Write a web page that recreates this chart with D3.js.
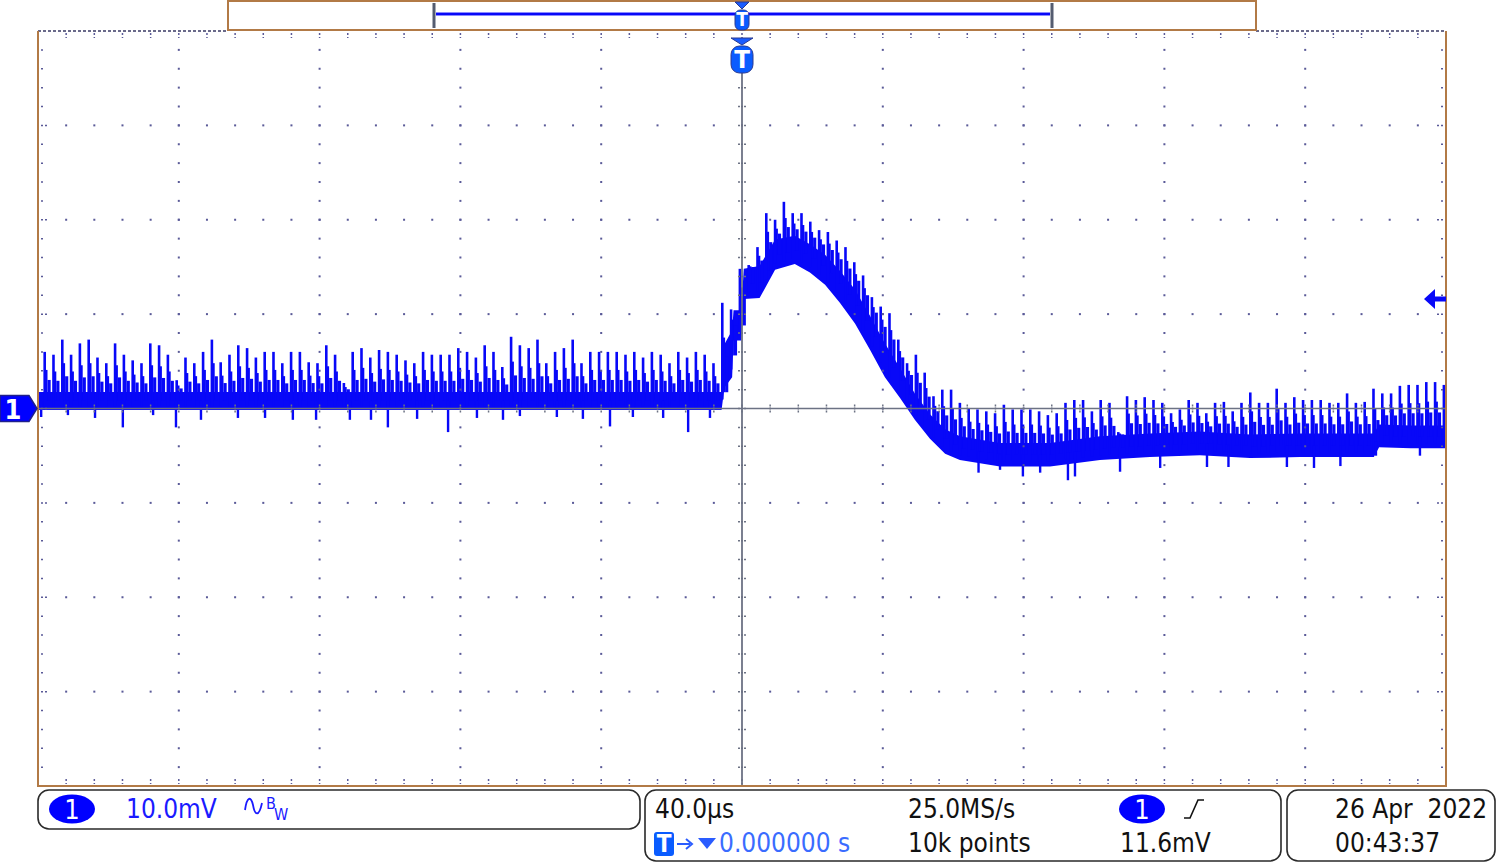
<!DOCTYPE html>
<html>
<head>
<meta charset="UTF-8">
<title>Ch1 ripple capture</title>
<script src="https://cdn.jsdelivr.net/npm/d3@7"></script>
<style>
  body { margin: 0; background: #fff; }
  svg text { font-family: "Liberation Sans Narrow", "Arial Narrow", "DejaVu Sans Condensed", sans-serif; white-space: pre; }
</style>
</head>
<body>
<svg id="scope" width="1500" height="867"></svg>
<script>
// values: time in µs (40 µs/div), level in mV (10 mV/div)

// centre and half-thickness of the noise band
var envTime = [-200, -5.8, -5.0, -2.8, -2.4, -0.2, 0.5, 5, 9.4, 15, 19.3, 23.6, 27.8, 32.1, 36.4, 40.6, 44.9, 49.1, 53.4, 57.7, 61.9, 73.3, 87.5, 101.7, 115.9, 130.1, 144.3, 158.5, 179.5, 181, 190, 200];
var envMid  = [0.8, 0.8, 4.5, 5.8, 8.8, 8.8, 13.2, 13.4, 16.3, 16.8, 15.9, 14.7, 12.9, 10.8, 8.0, 5.1, 2.7, 0.2, -1.9, -3.5, -4.2, -4.9, -4.9, -4.2, -3.9, -3.7, -4.0, -3.9, -3.9, -2.9, -3.0, -3.0];
var envHalf = [0.95, 0.95, 2.3, 2.5, 1.6, 1.6, 1.6, 1.7, 1.6, 1.5, 1.5, 1.6, 1.7, 1.8, 1.8, 1.8, 1.6, 1.4, 1.3, 1.3, 1.25, 1.25, 1.25, 1.25, 1.25, 1.25, 1.25, 1.25, 1.25, 1.2, 1.2, 1.2];

// switching spikes, one every 2.5 µs, peak level of each
var spikeStart = -198.1, spikePeriod = 2.5;
var spikePeak = [
  6.0,5.7,7.3,5.7,6.9,7.3,5.4,4.8,6.9,5.7,5.1,4.8,6.9,6.7,5.7,3.0,5.4,4.8,6.0,7.3,
  4.9,5.7,6.7,6.4,5.4,6.0,6.0,4.8,6.0,6.0,4.9,4.8,6.7,5.7,2.7,6.0,6.4,5.4,6.2,
  6.0,5.7,5.1,4.8,6.0,5.7,5.7,5.7,6.4,6.0,5.4,6.7,6.0,4.4,7.6,6.7,6.4,7.3,4.8,6.0,
  6.4,7.3,4.8,6.0,6.0,6.0,6.0,5.7,6.0,5.4,6.0,5.7,4.8,6.0,5.4,6.0,5.7,4.8,
  11.2,10.5,14.8,15.2,17.1,20.7,20.0,21.9,20.7,20.7,19.8,18.9,18.7,17.8,17.1,15.5,
  14.1,11.8,10.8,10.1,7.3,4.8,5.7,3.8,1.3,2.0,2.0,
  0.6,0.0,-0.1,-0.3,-0.5,0.4,-0.1,-0.1,-0.1,-0.3,-0.7,-0.5,0.6,0.9,0.9,-0.3,0.9,0.6,
  -2.5,1.3,0.9,1.2,0.9,0.6,-0.5,-0.1,0.9,0.6,-0.5,0.6,0.7,-0.3,0.6,1.7,0.6,0.6,2.1,
  0.6,1.2,0.9,0.9,0.9,0.6,0.6,1.6,0.6,0.7,2.1,1.6,1.6,2.4,2.5,2.5,2.8,2.8,2.5
];

// downward excursions [time, level]
var dips = [
  [-199.1,-0.9],[-191.5,-0.7],[-183.8,-1.0],[-175.9,-2.0],[-167.3,-0.7],[-160.8,-2.0],
  [-153.7,-1.2],[-143.2,-1.0],[-135.5,-1.0],[-127.6,-1.2],[-121.0,-1.2],[-111.4,-1.2],
  [-105.4,-1.2],[-100.6,-2.0],[-92.3,-1.1],[-83.5,-2.5],[-75.3,-1.0],[-67.9,-1.2],
  [-63.1,-0.8],[-52.6,-0.9],[-45.2,-1.1],[-37.5,-1.9],[-31.0,-0.9],[-22.4,-1.0],
  [-15.3,-2.5],[-9.1,-1.0],
  [67.2,-6.8],[73.3,-6.5],[79.8,-7.2],[84.7,-6.8],[92.6,-7.6],[94.6,-7.2],[107.4,-6.7],
  [118.8,-6.3],[132.1,-6.2],[138.2,-6.2],[154.8,-6.2],[162.5,-6.3],[170.0,-6.1],
  [180.1,-5.0],[192.6,-5.0]
];

var trigLevel = 11.6;
var infoLine1 = ["40.0µs", "25.0MS/s", "26 Apr  2022"];
var infoLine2 = ["10k points", "11.6mV", "00:43:37"];

var svg = d3.select("#scope");
var x = d3.scaleLinear().domain([-200, 200]).range([38, 1446]);
var y = d3.scaleLinear().domain([-40, 40]).range([786, 31]);
var midAt = d3.scaleLinear().domain(envTime).range(envMid);
var halfAt = d3.scaleLinear().domain(envTime).range(envHalf);

var blue = "#0808f8", brown = "#b27a46", dotc = "#5a5a98", axisc = "#6c7284";

svg.append("clipPath").attr("id", "plotclip")
  .append("rect").attr("x", x(-200)).attr("y", y(40)).attr("width", x(200) - x(-200)).attr("height", y(-40) - y(40));

// ---- trace ----
var trace = svg.append("g").attr("clip-path", "url(#plotclip)");
var env = envTime.map(function(t, i) { return { t: t, mid: envMid[i], half: envHalf[i] }; });
trace.append("path")
  .datum(env)
  .attr("fill", blue)
  .attr("d", d3.area()
    .x(function(d) { return x(d.t); })
    .y0(function(d) { return y(d.mid - d.half); })
    .y1(function(d) { return y(d.mid + d.half); }));

var spikes = spikePeak.map(function(p, k) {
  var t = spikeStart + k * spikePeriod;
  return { t: t, peak: p, mid: midAt(t), half: halfAt(t) };
});

// staircase decay after each spike
function stepTop(d, f) { return y(d.mid + d.half + (d.peak - d.mid - d.half) * f); }
[[0, 0.8, 0.55], [0.8, 1.7, 0.3]].forEach(function(s) {
  trace.selectAll(null)
    .data(spikes.filter(function(d) { return d.peak > d.mid + d.half; }))
    .enter().append("rect")
    .attr("x", function(d) { return x(d.t + s[0]); })
    .attr("width", function(d) { return x(d.t + s[1]) - x(d.t + s[0]); })
    .attr("y", function(d) { return stepTop(d, s[2]); })
    .attr("height", function(d) { return Math.max(0, y(d.mid) - stepTop(d, s[2])); })
    .attr("fill", blue);
});

trace.selectAll(null)
  .data(spikes)
  .enter().append("line")
  .attr("x1", function(d) { return x(d.t); })
  .attr("x2", function(d) { return x(d.t); })
  .attr("y1", function(d) { return y(d.mid - d.half * 0.6); })
  .attr("y2", function(d) { return y(d.peak); })
  .attr("stroke", blue)
  .attr("stroke-width", 2.6);

trace.selectAll(null)
  .data(dips)
  .enter().append("line")
  .attr("x1", function(d) { return x(d[0]); })
  .attr("x2", function(d) { return x(d[0]); })
  .attr("y1", function(d) { return y(midAt(d[0])); })
  .attr("y2", function(d) { return y(d[1]); })
  .attr("stroke", blue)
  .attr("stroke-width", 2.4);

// ---- graticule ----
var grid = svg.append("g");
var majT = d3.range(-160, 161, 40).filter(function(t) { return t !== 0; });
var majV = d3.range(-30, 31, 10).filter(function(v) { return v !== 0; });
var minT = d3.range(-200, 200.1, 8);
var minV = d3.range(-40, 40.1, 2);

majT.forEach(function(t) {
  grid.selectAll(null).data(minV.slice(1, -1)).enter().append("rect")
    .attr("x", x(t) - 1).attr("y", function(v) { return y(v) - 1; })
    .attr("width", 2).attr("height", 2).attr("fill", dotc);
});
majV.forEach(function(v) {
  grid.selectAll(null).data(minT.slice(1, -1)).enter().append("rect")
    .attr("x", function(t) { return x(t) - 1; }).attr("y", y(v) - 1)
    .attr("width", 2).attr("height", 2).attr("fill", dotc);
});

// edge ticks
grid.selectAll(null).data(minV.slice(1, -1)).enter().append("line")
  .attr("x1", 41).attr("x2", function(v) { return v % 10 === 0 ? 48 : 45; })
  .attr("y1", function(v) { return y(v); }).attr("y2", function(v) { return y(v); })
  .attr("stroke", dotc).attr("stroke-width", 1.5).attr("stroke-dasharray", "2,2");
grid.selectAll(null).data(minV.slice(1, -1)).enter().append("line")
  .attr("x1", 1443).attr("x2", function(v) { return v % 10 === 0 ? 1436 : 1439; })
  .attr("y1", function(v) { return y(v); }).attr("y2", function(v) { return y(v); })
  .attr("stroke", dotc).attr("stroke-width", 1.5).attr("stroke-dasharray", "2,2");
grid.selectAll(null).data(minT.slice(1, -1)).enter().append("line")
  .attr("x1", function(t) { return x(t); }).attr("x2", function(t) { return x(t); })
  .attr("y1", 33).attr("y2", 38)
  .attr("stroke", dotc).attr("stroke-width", 1.5).attr("stroke-dasharray", "2,2");
grid.selectAll(null).data(minT.slice(1, -1)).enter().append("line")
  .attr("x1", function(t) { return x(t); }).attr("x2", function(t) { return x(t); })
  .attr("y1", 779).attr("y2", 784)
  .attr("stroke", dotc).attr("stroke-width", 1.5).attr("stroke-dasharray", "2,2");

// centre cross
grid.append("line").attr("x1", x(-200)).attr("x2", x(200)).attr("y1", y(0)).attr("y2", y(0))
  .attr("stroke", axisc).attr("stroke-width", 1.6);
grid.append("line").attr("x1", x(0)).attr("x2", x(0)).attr("y1", 66).attr("y2", y(-40))
  .attr("stroke", axisc).attr("stroke-width", 1.8);
grid.selectAll(null).data(minT.slice(1, -1)).enter().append("line")
  .attr("x1", function(t) { return x(t); }).attr("x2", function(t) { return x(t); })
  .attr("y1", y(0) - 4).attr("y2", y(0) + 4)
  .attr("stroke", axisc).attr("stroke-width", 1.5).attr("stroke-dasharray", "2,1");
grid.selectAll(null).data(minV.slice(1, -1)).enter().append("line")
  .attr("x1", x(0) - 4).attr("x2", x(0) + 4)
  .attr("y1", function(v) { return y(v); }).attr("y2", function(v) { return y(v); })
  .attr("stroke", axisc).attr("stroke-width", 1.5).attr("stroke-dasharray", "2,1");

// frame
var frame = svg.append("g");
frame.append("line").attr("x1", 38).attr("x2", 228).attr("y1", 31).attr("y2", 31)
  .attr("stroke", "#6a6a8a").attr("stroke-width", 2).attr("stroke-dasharray", "3,2");
frame.append("line").attr("x1", 1256).attr("x2", 1446).attr("y1", 31).attr("y2", 31)
  .attr("stroke", "#6a6a8a").attr("stroke-width", 2).attr("stroke-dasharray", "3,2");
frame.append("path")
  .attr("d", "M38,31 V786 H1446 V31")
  .attr("fill", "none").attr("stroke", brown).attr("stroke-width", 2);

// record bar at the top
frame.append("rect").attr("x", 228).attr("y", 1).attr("width", 1028).attr("height", 29)
  .attr("fill", "#fff").attr("stroke", brown).attr("stroke-width", 2);
frame.append("line").attr("x1", 436).attr("x2", 1050).attr("y1", 14).attr("y2", 14)
  .attr("stroke", "#8a8aff").attr("stroke-width", 4);
frame.append("line").attr("x1", 436).attr("x2", 1050).attr("y1", 14).attr("y2", 14)
  .attr("stroke", blue).attr("stroke-width", 2);
[434, 1052].forEach(function(px) {
  frame.append("rect").attr("x", px - 1.5).attr("y", 3).attr("width", 3).attr("height", 25)
    .attr("fill", "#545c70");
});

function trigMarker(cx, top, w, h) {
  var g = svg.append("g");
  g.append("path")
    .attr("d", "M" + (cx - w / 2) + "," + top + " L" + (cx + w / 2) + "," + top + " L" + cx + "," + (top + 7) + " Z")
    .attr("fill", "#1a5cff").attr("stroke", "#2a3a90").attr("stroke-width", 1);
  g.append("rect").attr("x", cx - w / 2).attr("y", top + 8).attr("width", w).attr("height", h)
    .attr("rx", w / 2.6).attr("fill", "#0a5cff").attr("stroke", "#2a3a90").attr("stroke-width", 1);
  g.append("text").attr("x", cx).attr("y", top + 8 + h * 0.82).attr("text-anchor", "middle")
    .attr("font-size", h * 0.95).attr("font-weight", "bold").attr("fill", "#fff").text("T");
}
trigMarker(x(0), 2, 14, 20);
trigMarker(x(0), 38, 22, 27);

// channel ground marker
var gy = y(0);
svg.append("path")
  .attr("d", "M0," + (gy - 13) + " H29 L37," + gy + " L29," + (gy + 13) + " H0 Z")
  .attr("fill", "#0000ff").attr("stroke", "#20208a").attr("stroke-width", 1.5);
svg.append("text").attr("x", 13).attr("y", gy + 10).attr("text-anchor", "middle")
  .attr("font-size", 27).attr("font-weight", "bold").attr("fill", "#fff").text("1");

// trigger level arrow
var ty = y(trigLevel);
svg.append("path")
  .attr("d", "M1424," + ty + " L1435," + (ty - 10) + " V" + (ty - 2.5) + " H1446 V" + (ty + 2.5) + " H1435 V" + (ty + 10) + " Z")
  .attr("fill", blue);

// ---- readout boxes ----
var info = svg.append("g");
[[38, 790, 602, 39], [645, 790, 636, 71], [1287, 790, 208, 71]].forEach(function(b) {
  info.append("rect").attr("x", b[0]).attr("y", b[1]).attr("width", b[2]).attr("height", b[3])
    .attr("rx", 11).attr("fill", "#fff").attr("stroke", "#2a2a2a").attr("stroke-width", 1.6);
});

function chBadge(cx, cy) {
  info.append("ellipse").attr("cx", cx).attr("cy", cy).attr("rx", 23).attr("ry", 14.5).attr("fill", "#0000ff");
  info.append("text").attr("x", cx).attr("y", cy + 10).attr("text-anchor", "middle")
    .attr("font-size", 27).attr("fill", "#fff").text("1");
}
chBadge(72, 809);
chBadge(1142, 809);

info.append("text").attr("x", 126).attr("y", 818).attr("font-size", 26).attr("fill", "#1a1aff").text("10.0mV");
info.append("path").attr("d", "M245,810 C247,796 251,796 253,805 C255,816 259,817 262,803")
  .attr("fill", "none").attr("stroke", "#1a1aff").attr("stroke-width", 1.8);
info.append("text").attr("x", 266).attr("y", 809).attr("font-size", 16).attr("fill", "#1a1aff").text("B");
info.append("text").attr("x", 274).attr("y", 820).attr("font-size", 16).attr("fill", "#1a1aff").text("W");

var col = [655, 908, 1335];
infoLine1.forEach(function(s, i) {
  info.append("text").attr("x", col[i]).attr("y", 818).attr("font-size", 26).attr("fill", "#111").text(s);
});
info.append("text").attr("x", col[1]).attr("y", 852).attr("font-size", 26).attr("fill", "#111").text(infoLine2[0]);
info.append("text").attr("x", 1120).attr("y", 852).attr("font-size", 26).attr("fill", "#111").text(infoLine2[1]);
info.append("text").attr("x", col[2]).attr("y", 852).attr("font-size", 26).attr("fill", "#111").text(infoLine2[2]);

// rising edge symbol
info.append("path").attr("d", "M1184,818 H1190 L1198,800 H1204")
  .attr("fill", "none").attr("stroke", "#111").attr("stroke-width", 1.6);

// trigger position readout
info.append("rect").attr("x", 654).attr("y", 832).attr("width", 20).attr("height", 24).attr("rx", 3).attr("fill", "#0a5cff");
info.append("text").attr("x", 664).attr("y", 852).attr("text-anchor", "middle").attr("font-size", 24)
  .attr("font-weight", "bold").attr("fill", "#fff").text("T");
info.append("path").attr("d", "M677,844 H690 M686,839 L692,844 L686,849")
  .attr("fill", "none").attr("stroke", "#2a5cff").attr("stroke-width", 2);
info.append("path").attr("d", "M698,838 H716 L707,849 Z").attr("fill", "#2a5cff");
info.append("text").attr("x", 719).attr("y", 852).attr("font-size", 26).attr("fill", "#3a6cff").text("0.000000 s");
</script>
</body>
</html>
